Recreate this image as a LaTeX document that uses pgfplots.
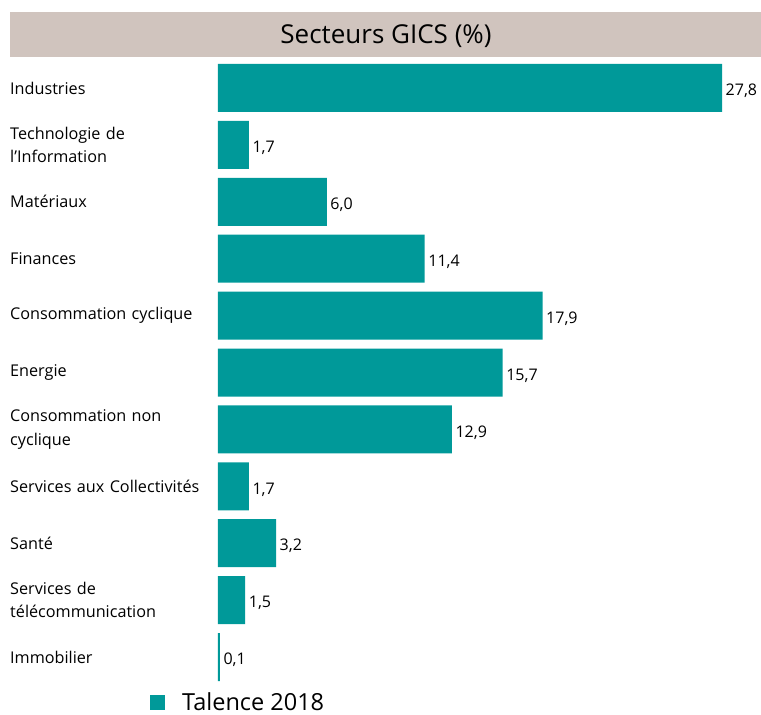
\documentclass[border=0pt]{standalone}
\usepackage{pgfplots}
\pgfplotsset{compat=1.18}
\usepackage{fontspec}
\setmainfont{Open Sans}
\definecolor{barteal}{HTML}{009999}
\definecolor{titlebg}{HTML}{D0C4BE}
\begin{document}
\begin{tikzpicture}[x=1pt,y=1pt]
\useasboundingbox (0,0) rectangle (761,715);
\fill[titlebg] (10,658) rectangle (761,703);
\node[font=\fontsize{26}{30}\selectfont] at (386,679) {Secteurs GICS (\%)};
\begin{axis}[
  at={(218pt,29.5pt)}, anchor=south west,
  scale only axis, width=543.9pt, height=626pt,
  xbar, xmin=0, xmax=30, ymin=-0.5, ymax=10.5, y dir=reverse,
  bar width=48pt,
  axis line style={draw=none},
  xtick=\empty,
  ytick={0,...,10},
  major tick length=0pt,
  /pgf/number format/assume math mode=true,
  yticklabels={Industries,{Technologie de\\l'Information},Matériaux,Finances,Consommation cyclique,Energie,{Consommation non\\cyclique},Services aux Collectivités,Santé,{Services de\\télécommunication},Immobilier},
  yticklabel style={anchor=west, xshift=-208pt, align=left, text width=205pt, inner sep=0pt, font=\fontsize{16.2}{23.5}\selectfont},
  nodes near coords,
  nodes near coords style={font=\fontsize{16}{19}\selectfont, inner sep=3.5pt, yshift=-3pt, /pgf/number format/.cd, assume math mode=true, use comma, fixed, fixed zerofill, precision=1},
  legend style={at={(axis description cs:-0.125,-0.027)}, anchor=west, draw=none, fill=none, inner sep=0pt, font=\fontsize{23.5}{26}\selectfont},
  legend image code/.code={\fill[barteal] (0pt,-7.5pt) rectangle (15pt,7.5pt); \path[draw=none,fill=none] (0pt,0pt) -- (30pt,0pt);},
]
\addplot[fill=barteal, draw=none] coordinates {(27.8,0) (1.7,1) (6.0,2) (11.4,3) (17.9,4) (15.7,5) (12.9,6) (1.7,7) (3.2,8) (1.5,9) (0.1,10)};
\legend{Talence 2018}
\end{axis}
\end{tikzpicture}
\end{document}
